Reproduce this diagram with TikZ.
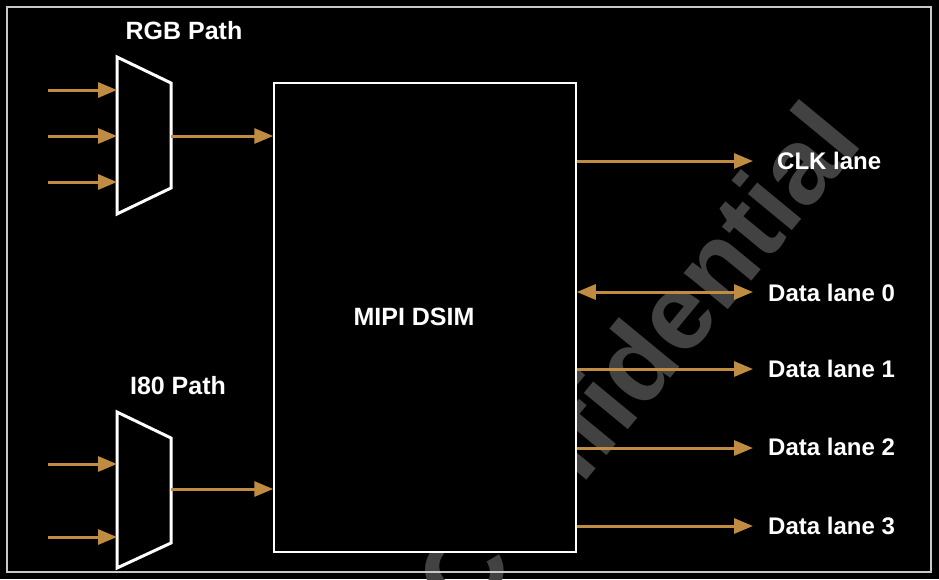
\documentclass[tikz,border=0pt]{standalone}
\usepackage{fontspec}
\setmainfont{Liberation Sans}
\usetikzlibrary{arrows.meta}
\definecolor{arrowc}{RGB}{192,140,66}
\definecolor{wmark}{RGB}{66,66,66}
\definecolor{framec}{RGB}{200,200,200}
\tikzset{
  sig/.style={draw=arrowc, line width=3pt, -{Triangle[length=19pt,width=15pt]}},
  bisig/.style={draw=arrowc, line width=3pt, {Triangle[length=19pt,width=15pt]}-{Triangle[length=19pt,width=15pt]}},
  muxline/.style={draw=white, line width=3pt, line join=miter},
  lbl/.style={text=white, font=\fontsize{24}{28}\selectfont\bfseries, inner sep=0pt},
  ttl/.style={text=white, font=\fontsize{25}{29}\selectfont\bfseries, inner sep=0pt}
}
\begin{document}
\begin{tikzpicture}[x=1pt,y=-1pt]
\useasboundingbox (0,0) rectangle (939,579);
\clip (0,0) rectangle (939,579);
\fill[black] (0,0) rectangle (939,579);
% watermark
\node[text=wmark, font=\fontsize{108}{116}\selectfont\bfseries, rotate=50.5, inner sep=0pt] (wm) at (636,360) {Confidential};
% frame
\node[draw=framec, line width=2pt, minimum width=924pt, minimum height=565pt, inner sep=0pt] (frame) at (469,289.5) {};
% DSIM box
\node[draw=white, fill=black, line width=1.5pt, minimum width=302pt, minimum height=469pt, inner sep=0pt] (dsim) at (425,317.5) {};
\node[ttl] (dsimlbl) at (414,317) {MIPI DSIM};
% RGB mux
\coordinate (m1tl) at (117,57);
\coordinate (m1tr) at (171,83);
\coordinate (m1br) at (171,188);
\coordinate (m1bl) at (117,214);
\draw[muxline] (m1tl) -- (m1tr) -- (m1br) -- (m1bl) -- cycle;
\node[ttl] (rgblbl) at (184,30.5) {RGB Path};
\coordinate (r1) at (48,90);
\coordinate (r2) at (48,136);
\coordinate (r3) at (48,182);
\draw[sig] (r1) -- (r1 -| m1tl);
\draw[sig] (r2) -- (r2 -| m1tl);
\draw[sig] (r3) -- (r3 -| m1tl);
\coordinate (m1o) at (171,136);
\draw[sig] (m1o) -- (m1o -| dsim.west);
% I80 mux
\coordinate (m2tl) at (117,412);
\coordinate (m2tr) at (171,438);
\coordinate (m2br) at (171,543);
\coordinate (m2bl) at (117,568);
\draw[muxline] (m2tl) -- (m2tr) -- (m2br) -- (m2bl) -- cycle;
\node[ttl] (i80lbl) at (178,386) {I80 Path};
\coordinate (i1) at (48,464);
\coordinate (i2) at (48,537);
\draw[sig] (i1) -- (i1 -| m2tl);
\draw[sig] (i2) -- (i2 -| m2tl);
\coordinate (m2o) at (171,489);
\draw[sig] (m2o) -- (m2o -| dsim.west);
% outputs
\node[lbl, anchor=west] (clk) at (777,161) {CLK lane};
\node[lbl, anchor=west] (d0) at (768,293) {Data lane 0};
\node[lbl, anchor=west] (d1) at (768,369) {Data lane 1};
\node[lbl, anchor=west] (d2) at (768,447) {Data lane 2};
\node[lbl, anchor=west] (d3) at (768,526) {Data lane 3};
\coordinate (tclk) at (753,161);
\coordinate (t0) at (753,292);
\coordinate (t1) at (753,369);
\coordinate (t2) at (753,448);
\coordinate (t3) at (753,526);
\draw[sig] (tclk -| dsim.east) -- (tclk);
\draw[bisig] (t0 -| dsim.east) -- (t0);
\draw[sig] (t1 -| dsim.east) -- (t1);
\draw[sig] (t2 -| dsim.east) -- (t2);
\draw[sig] (t3 -| dsim.east) -- (t3);
\end{tikzpicture}
\end{document}
